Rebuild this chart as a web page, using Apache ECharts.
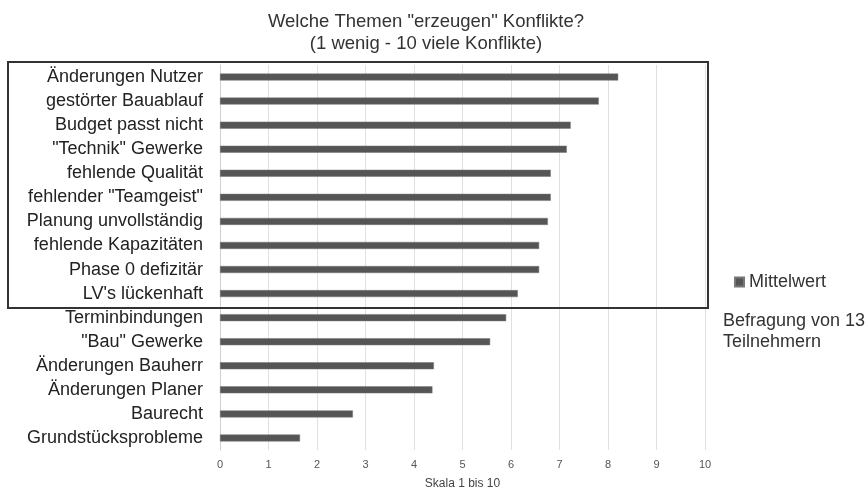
<!DOCTYPE html>
<html><head><meta charset="utf-8">
<script src="https://cdn.jsdelivr.net/npm/echarts@6/dist/echarts.min.js"></script>
<style>html,body{margin:0;padding:0;background:#fff}#c{width:865px;height:487px}</style>
</head><body><div id="c"></div>
<script>
const categories = ["Änderungen Nutzer","gestörter Bauablauf","Budget passt nicht","\"Technik\" Gewerke","fehlende Qualität","fehlender \"Teamgeist\"","Planung unvollständig","fehlende Kapazitäten","Phase 0 defizitär","LV's lückenhaft","Terminbindungen","\"Bau\" Gewerke","Änderungen Bauherr","Änderungen Planer","Baurecht","Grundstücksprobleme"];
const mittelwert = [8.21,7.81,7.23,7.15,6.82,6.82,6.76,6.58,6.58,6.14,5.90,5.57,4.41,4.38,2.74,1.65];
const xTicks = [0,1,2,3,4,5,6,7,8,9,10];

const chart = echarts.init(document.getElementById('c'));
const F = '"Liberation Sans", Arial, sans-serif';
chart.setOption({
  animation:false,
  backgroundColor:'#fff',
  title:{text:'Welche Themen "erzeugen" Konflikte?\n(1 wenig - 10 viele Konflikte)', left:421, top:6, textAlign:'center',
    textStyle:{fontFamily:F,fontSize:18.5,fontWeight:'normal',color:'#333',lineHeight:22}},
  legend:{data:['Mittelwert'], left:729, top:268, icon:'rect', itemWidth:9, itemHeight:9, itemGap:5,
    textStyle:{fontFamily:F,fontSize:18,color:'#333'}},
  grid:{left:220,right:160,top:65,bottom:37,containLabel:false,outerBoundsMode:'none'},
  xAxis:{type:'value',min:xTicks[0],max:xTicks[xTicks.length-1],interval:1,
    name:'Skala 1 bis 10',nameLocation:'middle',nameGap:28,nameTextStyle:{fontFamily:F,fontSize:12,color:'#444'},
    axisLine:{show:false},axisTick:{show:false},
    axisLabel:{fontFamily:F,fontSize:11,color:'#555',margin:9},
    splitLine:{show:true,lineStyle:{color:'#e0e0e0',width:1}}},
  yAxis:{type:'category',data:categories,inverse:true,
    axisLine:{show:true,lineStyle:{color:'#d0d0d0'}},axisTick:{show:false},
    axisLabel:{fontFamily:F,fontSize:18,color:'#222',margin:17}},
  series:[{name:'Mittelwert',type:'bar',data:mittelwert,barWidth:7,
    itemStyle:{color:'#555',borderColor:'#777',borderWidth:0.5}}],
  graphic:[
    {type:'rect',shape:{x:8,y:62,width:700,height:246},style:{fill:'none',stroke:'#333',lineWidth:2},z:100},
    {type:'text',left:723,top:311,style:{text:'Befragung von 13\nTeilnehmern',fontFamily:F,fontSize:18,fill:'#333',lineHeight:21}}
  ]
});
</script></body></html>
